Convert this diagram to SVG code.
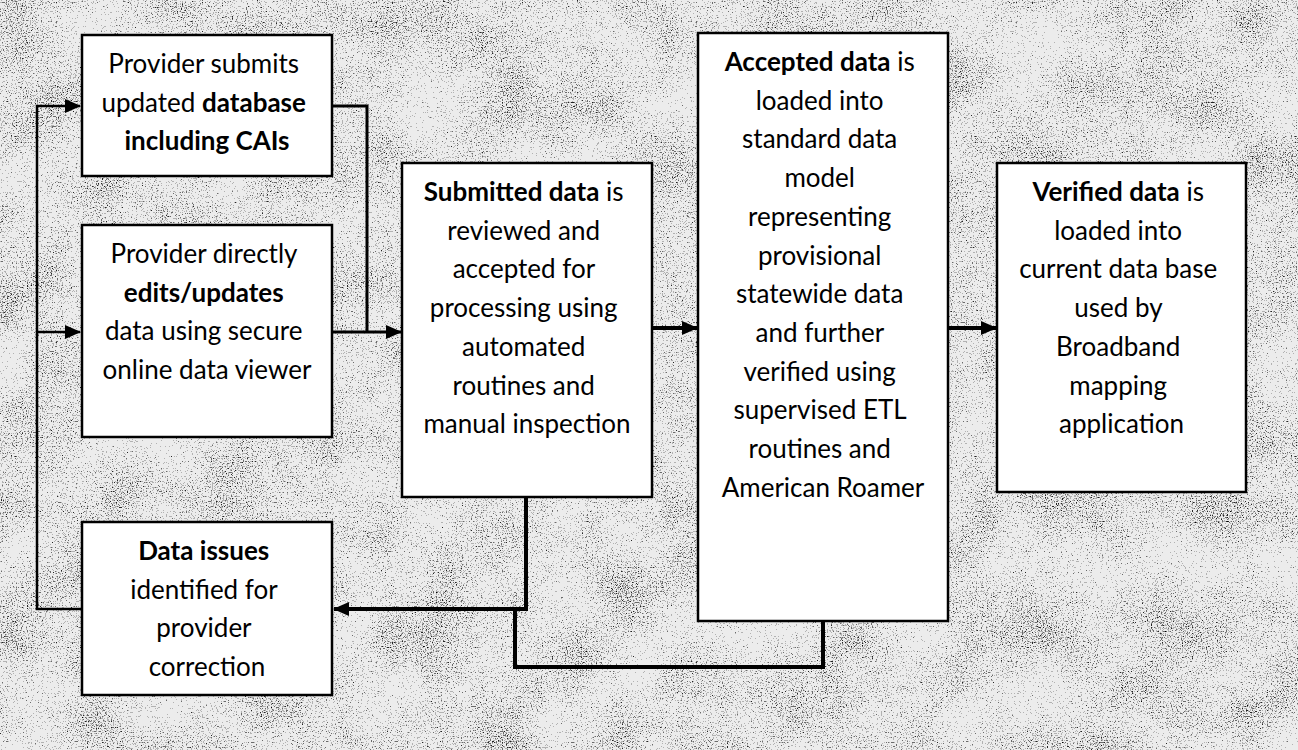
<svg xmlns="http://www.w3.org/2000/svg" width="1298" height="750" viewBox="0 0 1298 750">
  <style>
    .box { fill: #ffffff; stroke: #000000; stroke-width: 2.5; }
    .t { font-family: Lato, "Open Sans", "Liberation Sans", sans-serif; font-size: 26px; fill: #000000; text-anchor: middle; }
    .b { font-weight: bold; }
    .c { fill: none; stroke: #000000; stroke-width: 3; stroke-linejoin: miter; }
    .ct { fill: none; stroke: #000000; stroke-width: 4; stroke-linejoin: miter; }
    .thin { fill: none; stroke: #000000; stroke-width: 2.5; }
  </style>
  <defs>
    <marker id="arrow" markerUnits="userSpaceOnUse" markerWidth="16" markerHeight="14" refX="15" refY="7" orient="auto">
      <path d="M0,0 L16,7 L0,14 z" fill="#000000"/>
    </marker>
    <filter id="speckle" filterUnits="userSpaceOnUse" x="0" y="0" width="1298" height="750">
      <feTurbulence type="fractalNoise" baseFrequency="0.8" numOctaves="2" seed="5" result="fine"/>
      <feColorMatrix in="fine" type="matrix" values="0 0 0 0 0  0 0 0 0 0  0 0 0 0 0  1 0 0 0 0" result="fa"/>
      <feTurbulence type="fractalNoise" baseFrequency="0.015" numOctaves="3" seed="11" result="coarse"/>
      <feColorMatrix in="coarse" type="matrix" values="0 0 0 0 0  0 0 0 0 0  0 0 0 0 0  1 0 0 0 0" result="ca"/>
      <feComposite in="fa" in2="ca" operator="arithmetic" k1="0" k2="1" k3="0.3" k4="-0.16" result="mix"/>
      <feComponentTransfer in="mix">
        <feFuncA type="discrete" tableValues="0 0 0 0 0 0 0.25 0.55 0.85 1"/>
      </feComponentTransfer>
    </filter>
  </defs>

  <rect x="0" y="0" width="1298" height="750" fill="#ececec"/>
  <rect x="0" y="0" width="1298" height="750" fill="#000000" filter="url(#speckle)"/>

  <g id="connectors">
    <path class="thin" d="M82,609 L37,609 L37,106 L80,106" marker-end="url(#arrow)"/>
    <path class="thin" d="M37,332 L80,332" marker-end="url(#arrow)"/>
    <path class="c" d="M332,106 L367,106 L367,332"/>
    <path class="c" d="M332,332 L401,332" marker-end="url(#arrow)"/>
    <path class="ct" d="M652,328 L697,328" marker-end="url(#arrow)"/>
    <path class="ct" d="M948,328 L996,328" marker-end="url(#arrow)"/>
    <path class="ct" d="M526,497 L526,609 L334,609" marker-end="url(#arrow)"/>
    <path class="ct" d="M823,621 L823,667 L515,667 L515,609"/>
  </g>

  <g id="node-provider-submits">
    <rect class="box" x="82" y="35" width="250" height="141"/>
    <text class="t" y="34.3">
      <tspan x="207" dy="38.7">Provider submits</tspan>
      <tspan x="207" dy="38.7">updated <tspan class="b">database</tspan></tspan>
      <tspan x="207" dy="38.7" class="b">including CAIs</tspan>
    </text>
  </g>

  <g id="node-provider-edits">
    <rect class="box" x="82" y="225" width="250" height="212"/>
    <text class="t" y="224.3">
      <tspan x="207" dy="38.7">Provider directly</tspan>
      <tspan x="207" dy="38.7" class="b">edits/updates</tspan>
      <tspan x="207" dy="38.7">data using secure</tspan>
      <tspan x="207" dy="38.7">online data viewer</tspan>
    </text>
  </g>

  <g id="node-submitted">
    <rect class="box" x="402" y="163" width="250" height="334"/>
    <text class="t" y="162.3">
      <tspan x="527" dy="38.7"><tspan class="b">Submitted data</tspan> is</tspan>
      <tspan x="527" dy="38.7">reviewed and</tspan>
      <tspan x="527" dy="38.7">accepted for</tspan>
      <tspan x="527" dy="38.7">processing using</tspan>
      <tspan x="527" dy="38.7">automated</tspan>
      <tspan x="527" dy="38.7">routines and</tspan>
      <tspan x="527" dy="38.7">manual inspection</tspan>
    </text>
  </g>

  <g id="node-accepted">
    <rect class="box" x="698" y="33" width="250" height="588"/>
    <text class="t" y="32.3">
      <tspan x="823" dy="38.7"><tspan class="b">Accepted data</tspan> is</tspan>
      <tspan x="823" dy="38.7">loaded into</tspan>
      <tspan x="823" dy="38.7">standard data</tspan>
      <tspan x="823" dy="38.7">model</tspan>
      <tspan x="823" dy="38.7">representing</tspan>
      <tspan x="823" dy="38.7">provisional</tspan>
      <tspan x="823" dy="38.7">statewide data</tspan>
      <tspan x="823" dy="38.7">and further</tspan>
      <tspan x="823" dy="38.7">verified using</tspan>
      <tspan x="823" dy="38.7">supervised ETL</tspan>
      <tspan x="823" dy="38.7">routines and</tspan>
      <tspan x="823" dy="38.7">American Roamer</tspan>
    </text>
  </g>

  <g id="node-verified">
    <rect class="box" x="997" y="163" width="249" height="329"/>
    <text class="t" y="162.3">
      <tspan x="1121.5" dy="38.7"><tspan class="b">Verified data</tspan> is</tspan>
      <tspan x="1121.5" dy="38.7">loaded into</tspan>
      <tspan x="1121.5" dy="38.7">current data base</tspan>
      <tspan x="1121.5" dy="38.7">used by</tspan>
      <tspan x="1121.5" dy="38.7">Broadband</tspan>
      <tspan x="1121.5" dy="38.7">mapping</tspan>
      <tspan x="1121.5" dy="38.7">application</tspan>
    </text>
  </g>

  <g id="node-data-issues">
    <rect class="box" x="82" y="522" width="250" height="173"/>
    <text class="t" y="521.3">
      <tspan x="207" dy="38.7" class="b">Data issues</tspan>
      <tspan x="207" dy="38.7">identified for</tspan>
      <tspan x="207" dy="38.7">provider</tspan>
      <tspan x="207" dy="38.7">correction</tspan>
    </text>
  </g>
</svg>
